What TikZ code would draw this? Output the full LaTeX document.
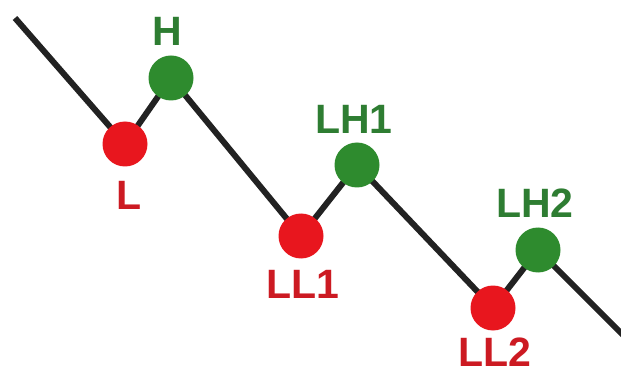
\documentclass[tikz,border=0pt]{standalone}
\usepackage{fontspec}
\setmainfont{Liberation Sans}
\definecolor{dotred}{HTML}{E8161E}
\definecolor{dotgreen}{HTML}{2E8B2E}
\definecolor{txtred}{HTML}{CC1A22}
\definecolor{txtgreen}{HTML}{2E7D32}
\definecolor{linegray}{HTML}{222222}
\begin{document}
\begin{tikzpicture}[x=1pt,y=-1pt,
  dot/.style={circle,minimum size=45pt,inner sep=0pt},
  lowdot/.style={dot,fill=dotred},
  highdot/.style={dot,fill=dotgreen},
  lbl/.style={inner sep=0pt,font=\fontsize{41}{41}\selectfont\bfseries},
  lowlbl/.style={lbl,text=txtred},
  highlbl/.style={lbl,text=txtgreen},
  wave/.style={draw=linegray,line width=6pt}]
\useasboundingbox (0,0) rectangle (621,374);
\coordinate (start) at (15,18);
\coordinate (end) at (624,336);
\coordinate (pL) at (125,144);
\coordinate (pH) at (171,78);
\coordinate (pLL1) at (301,236);
\coordinate (pLH1) at (357,165);
\coordinate (pLL2) at (493,308);
\coordinate (pLH2) at (538,250);
\draw[wave] (start) -- (pL) -- (pH) -- (pLL1) -- (pLH1) -- (pLL2) -- (pLH2) -- (end);
\node[lowdot] (L) at (pL) {};
\node[highdot] (H) at (pH) {};
\node[lowdot] (LL1) at (pLL1) {};
\node[highdot] (LH1) at (pLH1) {};
\node[lowdot] (LL2) at (pLL2) {};
\node[highdot] (LH2) at (pLH2) {};
\node[highlbl] (tH) at (167,31) {H};
\node[lowlbl] (tL) at (129,195) {L};
\node[highlbl] (tLH1) at (354,119) {LH1};
\node[lowlbl] (tLL1) at (303,284) {LL1};
\node[highlbl] (tLH2) at (535,203) {LH2};
\node[lowlbl] (tLL2) at (495,352) {LL2};
\end{tikzpicture}
\end{document}
